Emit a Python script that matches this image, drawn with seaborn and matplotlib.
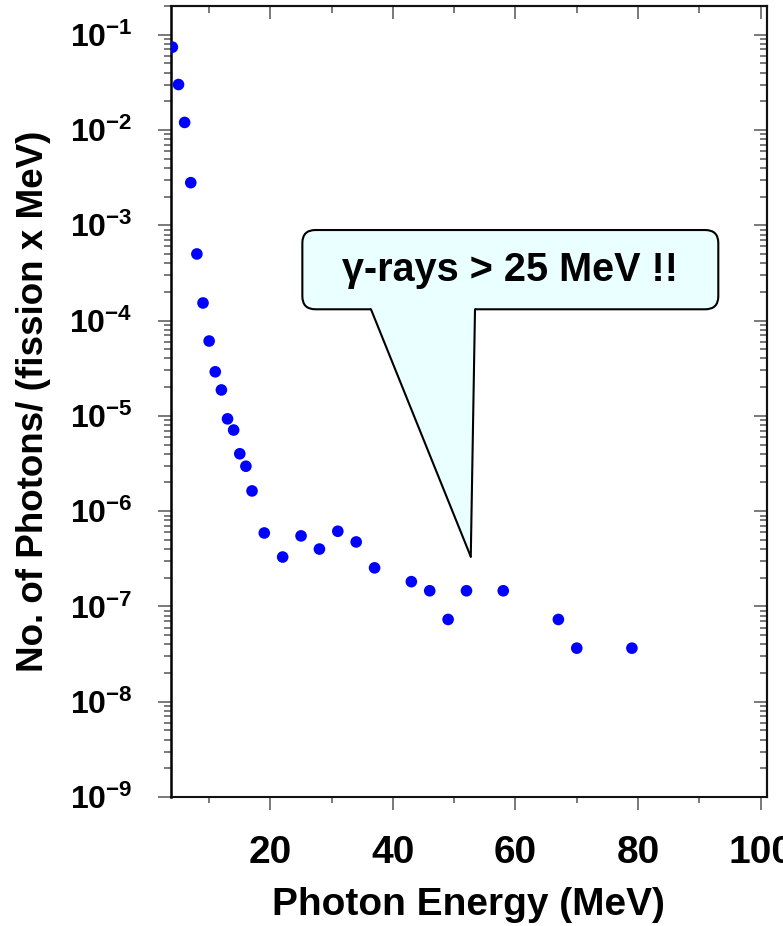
import matplotlib
matplotlib.use("Agg")
import matplotlib.pyplot as plt
import seaborn as sns
import pandas as pd
from matplotlib.patches import FancyBboxPatch, Polygon
from matplotlib.lines import Line2D
from matplotlib.ticker import MultipleLocator, LogLocator, NullFormatter

# ---- data ----
energy_mev = [4, 5, 6, 7, 8, 9, 10, 11, 12, 13, 14, 15, 16, 17, 19, 22, 25, 28,
              31, 34, 37, 43, 46, 49, 52, 58, 67, 70, 79]
photons = [7.4e-2, 3.0e-2, 1.2e-2, 2.8e-3, 5.0e-4, 1.53e-4, 6.1e-5, 2.9e-5,
           1.87e-5, 9.3e-6, 7.1e-6, 4.0e-6, 2.96e-6, 1.63e-6, 5.9e-7, 3.3e-7,
           5.5e-7, 4.0e-7, 6.15e-7, 4.75e-7, 2.54e-7, 1.82e-7, 1.46e-7, 7.3e-8,
           1.46e-7, 1.46e-7, 7.3e-8, 3.65e-8, 3.65e-8]
xtick_vals = [20, 40, 60, 80, 100]
xtick_labels = ["20", "40", "60", "80", "100"]
ytick_vals = [1e-1, 1e-2, 1e-3, 1e-4, 1e-5, 1e-6, 1e-7, 1e-8, 1e-9]
ytick_labels = [r"$\mathbf{10^{-%d}}$" % k for k in range(1, 10)]
callout_text = "γ-rays > 25 MeV !!"
callout_tip = (52.7, 3.33e-7)

sns.set_style("ticks")
plt.rcParams["font.family"] = ["Liberation Sans", "DejaVu Sans"]
plt.rcParams["font.weight"] = "bold"
plt.rcParams["mathtext.fontset"] = "custom"
plt.rcParams["mathtext.rm"] = "Liberation Sans:bold"
plt.rcParams["mathtext.bf"] = "Liberation Sans:bold"
plt.rcParams["mathtext.it"] = "Liberation Sans:bold"
plt.rcParams["text.color"] = "black"
plt.rcParams["axes.labelcolor"] = "black"
plt.rcParams["xtick.labelcolor"] = "black"
plt.rcParams["ytick.labelcolor"] = "black"

df = pd.DataFrame({"energy": energy_mev, "photons": photons})

fig = plt.figure(figsize=(7.83, 9.26), dpi=100)
ax = fig.add_axes([0.2178, 0.1393, 0.7614, 0.8542])

sns.scatterplot(data=df, x="energy", y="photons", ax=ax, color="#0000FF",
                s=70, edgecolor="none", linewidth=0, zorder=3)

ax.set_yscale("log")
ax.set_xlim(3.7, 101)
ax.set_ylim(1e-9, 0.2)

ax.set_xticks(xtick_vals)
ax.set_xticklabels(xtick_labels)
ax.xaxis.set_minor_locator(MultipleLocator(10))
ax.set_yticks(ytick_vals)
ax.set_yticklabels(ytick_labels)
ax.yaxis.set_minor_locator(LogLocator(base=10, subs=range(2, 10), numticks=50))
ax.yaxis.set_minor_formatter(NullFormatter())

for sp in ax.spines.values():
    sp.set_visible(True)
    sp.set_linewidth(1.5)
    sp.set_color("#111111")
ax.spines["left"].set_color("black")
ax.spines["left"].set_linewidth(1.8)

tick_col = "#555555"
ax.tick_params(axis="x", which="major", direction="out", length=9, width=1.1,
               color=tick_col, labelsize=28, pad=18, top=False, labelcolor="black")
ax.tick_params(axis="x", which="minor", direction="out", length=4, width=1.1,
               color=tick_col, top=False)
ax.tick_params(axis="y", which="major", direction="out", length=9.5, width=1.1,
               color=tick_col, labelsize=23, pad=18, right=False, labelcolor="black")
ax.tick_params(axis="y", which="minor", direction="out", length=5, width=1.1,
               color=tick_col, right=False)

# inward ticks on top and right (secondary axes sharing the scales)
for side in ("top", "right"):
    sec = ax.secondary_xaxis("top") if side == "top" else ax.secondary_yaxis("right")
    if side == "top":
        sec.set_xticks(xtick_vals)
        sec.xaxis.set_minor_locator(MultipleLocator(10))
    else:
        sec.set_yticks(ytick_vals)
        sec.yaxis.set_minor_locator(LogLocator(base=10, subs=range(2, 10), numticks=50))
        sec.yaxis.set_minor_formatter(NullFormatter())
    sec.tick_params(which="major", direction="in", length=9.5, width=1.1,
                    color=tick_col, labelsize=0, labelcolor="none")
    sec.tick_params(which="minor", direction="in", length=5, width=1.1,
                    color=tick_col)
    for sp in sec.spines.values():
        sp.set_linewidth(1.5)
        sp.set_color("#111111")

ax.set_xlabel("Photon Energy (MeV)", fontsize=28, fontweight="bold", color="black")
ax.set_ylabel("No. of Photons/ (fission x MeV)", fontsize=26.5, fontweight="bold",
              color="black")
ax.xaxis.set_label_coords(0.5, -0.114)
ax.yaxis.set_label_coords(-0.2004, 0.5)

# ---- callout ----
fill = "#EAFFFF"
bx0, by0, bx1, by1 = 0.2211, 0.6166, 0.9188, 0.7168
box = FancyBboxPatch((bx0, by0), bx1 - bx0, by1 - by0,
                     boxstyle="round,pad=0,rounding_size=0.022",
                     transform=ax.transAxes, facecolor=fill, edgecolor="black",
                     linewidth=1.5, zorder=4, mutation_aspect=0.75)
ax.add_patch(box)
tip_ax = ax.transAxes.inverted().transform(ax.transData.transform(callout_tip))
tl = (0.3362, by0)
tr = (0.5107, by0)
tail = Polygon([(tl[0], by0 + 0.004), tl, tuple(tip_ax), tr, (tr[0], by0 + 0.004)],
               closed=True, transform=ax.transAxes, facecolor=fill,
               edgecolor="none", zorder=5)
ax.add_patch(tail)
for p in (tl, tr):
    ax.add_line(Line2D([p[0], tip_ax[0]], [p[1], tip_ax[1]], transform=ax.transAxes,
                       color="black", linewidth=1.5, zorder=6,
                       solid_capstyle="round"))
ax.text((bx0 + bx1) / 2, (by0 + by1) / 2, callout_text, transform=ax.transAxes,
        ha="center", va="center", fontsize=28.5, fontweight="bold", zorder=7,
        color="black")

fig.savefig("out.png", dpi=100)
